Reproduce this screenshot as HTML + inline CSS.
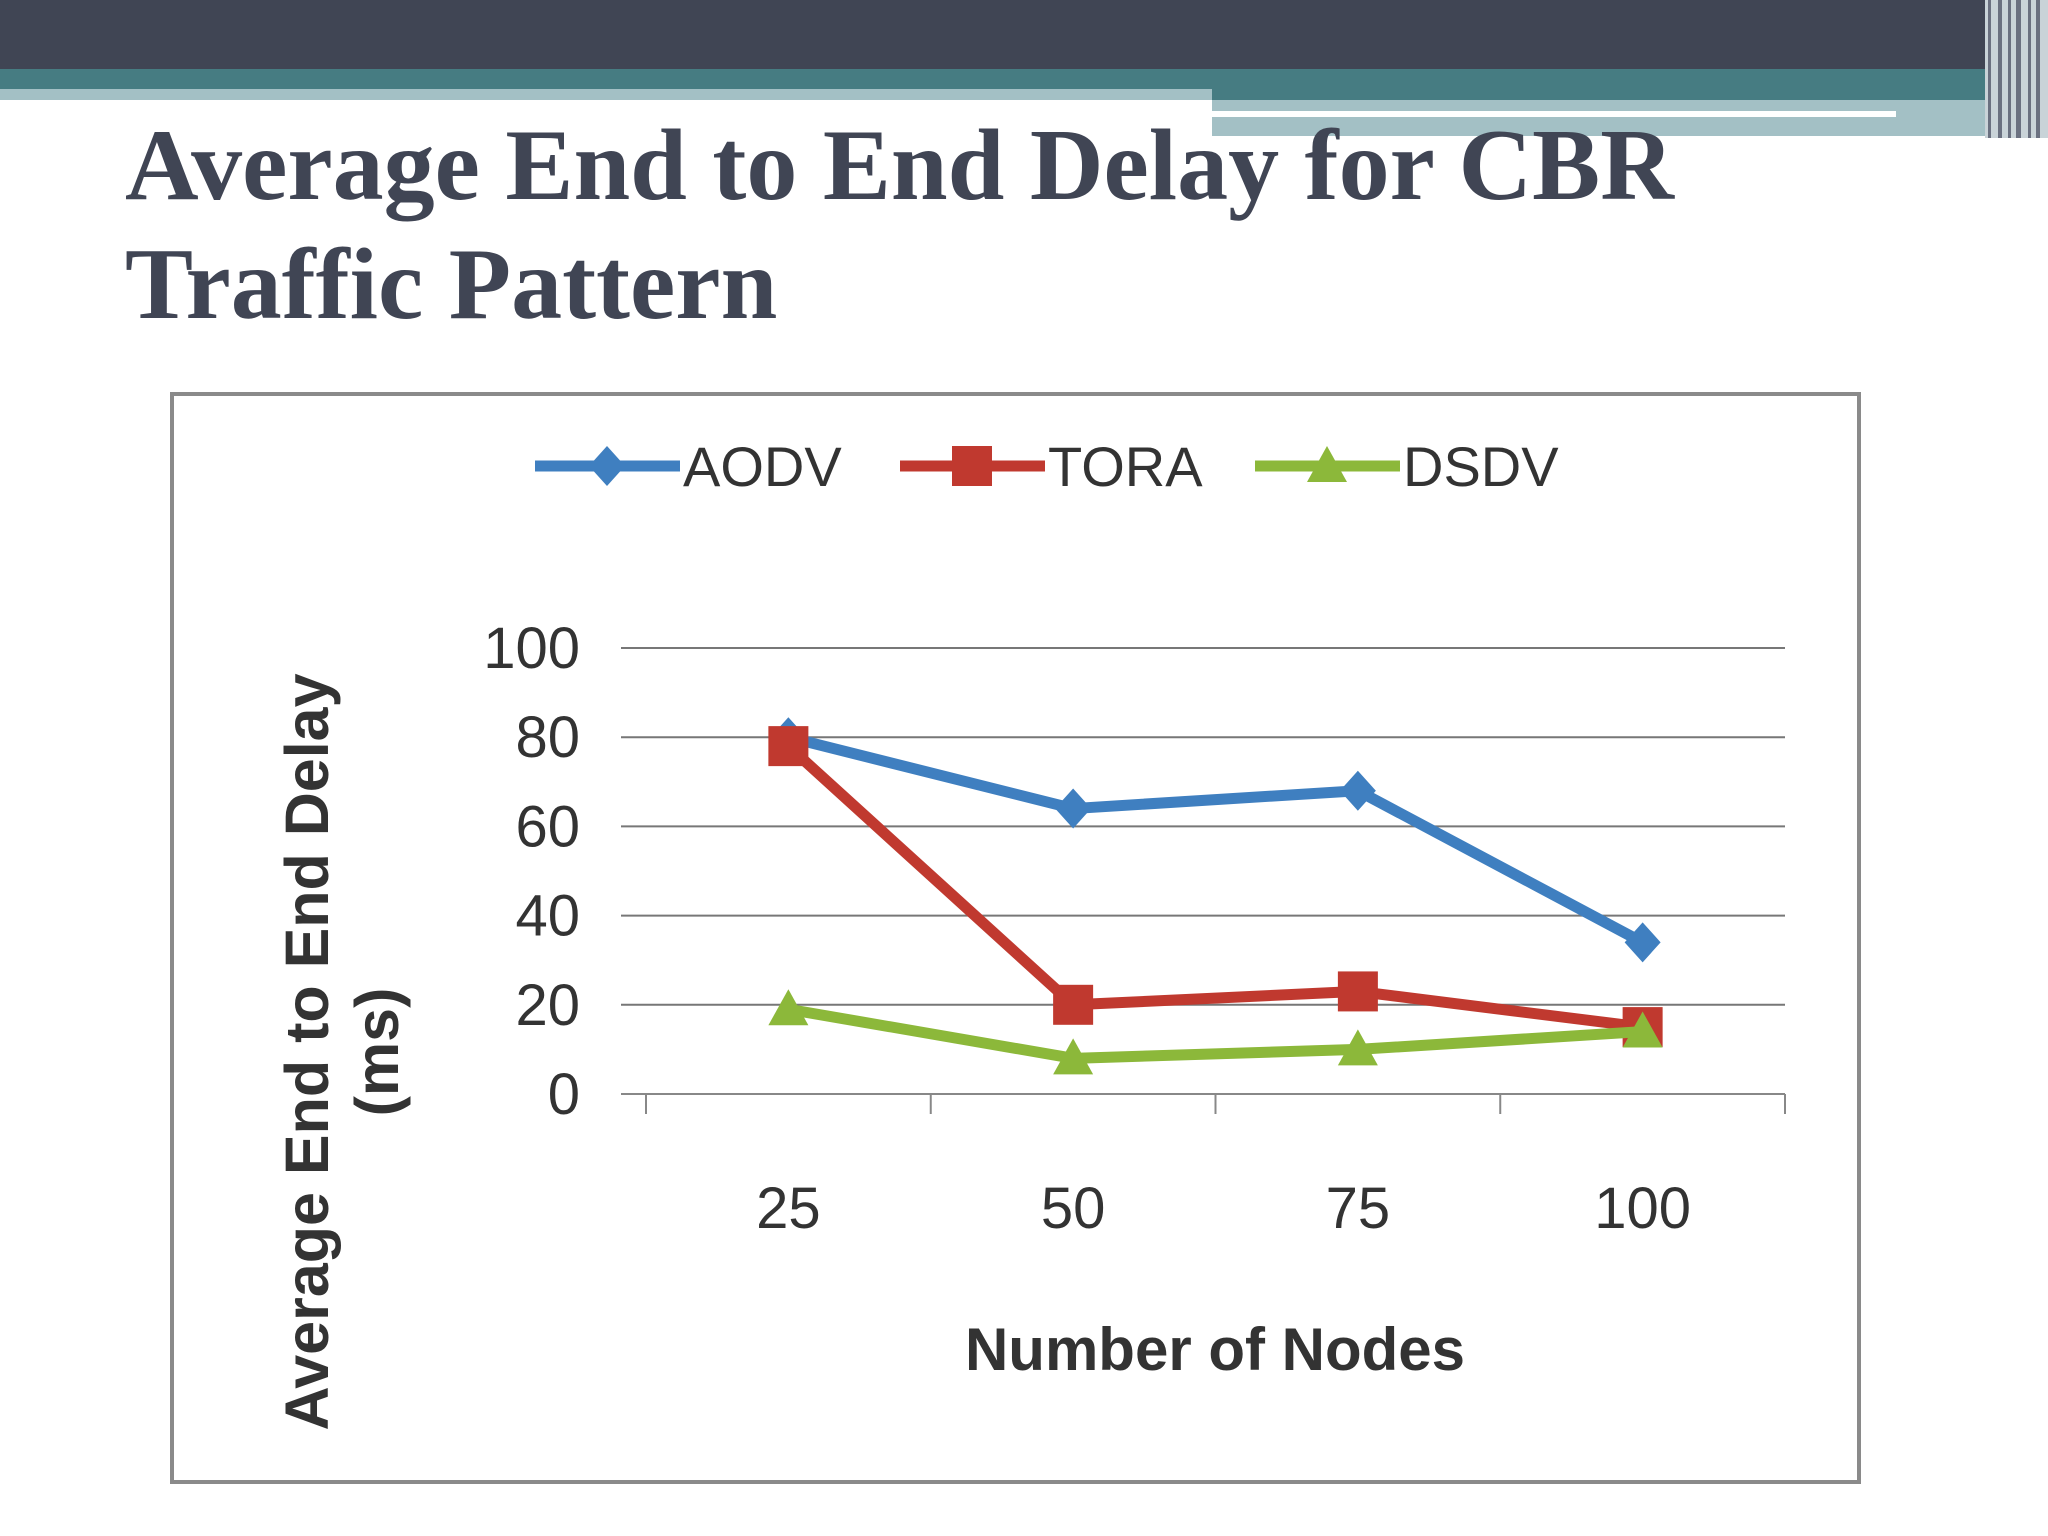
<!DOCTYPE html>
<html><head><meta charset="utf-8"><style>body{margin:0;background:#fff}svg{display:block}</style></head>
<body>
<svg width="2048" height="1536" viewBox="0 0 2048 1536" xmlns="http://www.w3.org/2000/svg">
<rect x="0" y="0" width="2048" height="69" fill="#404554"/>
<rect x="0" y="69" width="2048" height="31" fill="#467c82"/>
<rect x="0" y="89" width="1212" height="11" fill="#a3c0c5"/>
<rect x="1212" y="100" width="773" height="36" fill="#a3c0c5"/>
<rect x="1212" y="111" width="684" height="6" fill="#fff"/>
<g>
<rect x="1985" y="0" width="63" height="138" fill="#c9d3d8"/>
<rect x="1988" y="0" width="3" height="138" fill="#6a7080"/>
<rect x="1998" y="0" width="4" height="138" fill="#6a7080"/>
<rect x="2008" y="0" width="3" height="138" fill="#6a7080"/>
<rect x="2016" y="0" width="5" height="138" fill="#6a7080"/>
<rect x="2028" y="0" width="3" height="138" fill="#6a7080"/>
<rect x="2036" y="0" width="4" height="138" fill="#6a7080"/>
</g>
<g font-family="Liberation Serif, serif" font-weight="bold" font-size="102" fill="#404554">
<text x="125" y="199">Average End to End Delay for CBR</text>
<text x="125" y="318">Traffic Pattern</text>
</g>
<rect x="172" y="394" width="1687" height="1088" fill="#fff" stroke="#8a8a8a" stroke-width="4"/>
<g id="chart" font-family="Liberation Sans, sans-serif" fill="#333"></g>
</svg>
<script>
const categories=["25","50","75","100"];
const yTicks=[0,20,40,60,80,100];
const aodv=[80,64,68,34];
const tora=[78,20,23,15];
const dsdv=[19,8,10,14];
const NS="http://www.w3.org/2000/svg";
const g=document.getElementById('chart');
const x0=646,x1=1785,y0=1094,y1=648;
const bw=(x1-x0)/categories.length;
function xs(i){return x0+bw*(i+0.5);}
function ys(v){return y0-(v/100)*(y0-y1);}
function mk(t,a,p){const e=document.createElementNS(NS,t);for(const k in a)e.setAttribute(k,a[k]);(p||g).appendChild(e);return e;}
yTicks.forEach(v=>{
 const l=mk('line',{x1:x0-25,x2:x1,y1:ys(v),y2:ys(v),stroke:v===0?'#888':'#777','stroke-width':2});
 
 
 const t=mk('text',{x:580,y:ys(v)+20,'text-anchor':'end','font-size':58});
 t.textContent=v;
 
 
});
for(let i=0;i<=categories.length;i++){
 const l=mk('line',{x1:x0+bw*i,x2:x0+bw*i,y1:y0,y2:y0+20,stroke:'#888','stroke-width':2});
 
 
}
categories.forEach((c,i)=>{
 const t=mk('text',{x:xs(i),y:1228,'text-anchor':'middle','font-size':58});
 t.textContent=c;
 
 
});
function marker(type,cx,cy,color,parent){
 let e;
 if(type==='d')e=mk('polygon',{points:`${cx},${cy-20} ${cx+18},${cy} ${cx},${cy+20} ${cx-18},${cy}`,fill:color},parent);
 else if(type==='s')e=mk('rect',{x:cx-20,y:cy-20,width:40,height:40,fill:color},parent);
 else e=mk('polygon',{points:`${cx},${cy-20} ${cx+20},${cy+16} ${cx-20},${cy+16}`,fill:color},parent);
 return e;
}
const series=[["AODV",aodv,"#3f7fc0","d"],["TORA",tora,"#c0392f","s"],["DSDV",dsdv,"#8cb83a","t"]];
series.forEach(([name,vals,col,m])=>{
 const sg=mk('g',{});
 
 
 mk('polyline',{points:vals.map((v,i)=>xs(i)+','+ys(v)).join(' '),fill:'none',stroke:col,'stroke-width':11,'stroke-linejoin':'round'},sg);
 vals.forEach((v,i)=>{
  const p=marker(m,xs(i),ys(v),col,sg);
  
  
 });
});
const lx=[535,900,1255];
series.forEach(([name,vals,col,m],k)=>{
 const lg=mk('g',{});
 
 
 mk('line',{x1:lx[k],x2:lx[k]+145,y1:466,y2:466,stroke:col,'stroke-width':11},lg);
 marker(m,lx[k]+72,466,col,lg);
 const t=mk('text',{x:lx[k]+148,y:486,'font-size':56},lg);
 t.textContent=name;
});
const xt=mk('text',{x:1215,y:1370,'text-anchor':'middle','font-size':60,'font-weight':'bold'});
xt.textContent='Number of Nodes';


const yt=mk('text',{transform:'translate(328,1052) rotate(-90)','text-anchor':'middle','font-size':61,'font-weight':'bold'});


const t1=mk('tspan',{x:0,y:0},yt);t1.textContent='Average End to End Delay';
const t2=mk('tspan',{x:0,y:70},yt);t2.textContent='(ms)';
</script>
</body></html>
